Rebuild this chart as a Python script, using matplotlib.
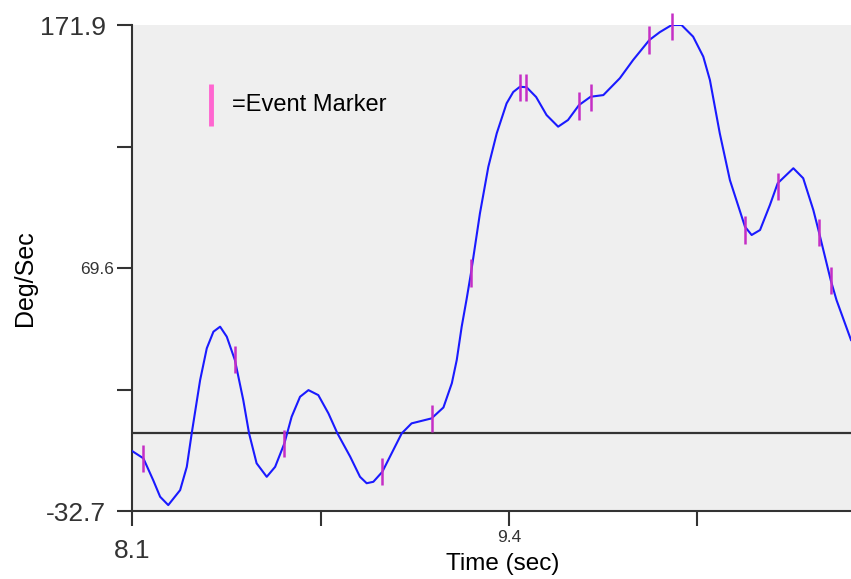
import numpy as np
import matplotlib.pyplot as plt

# angular velocity trace (sec, deg/sec)
time = [8.100, 8.138, 8.172, 8.196, 8.224, 8.265, 8.288, 8.305, 8.334, 8.357,
        8.380, 8.403, 8.426, 8.454, 8.483, 8.503, 8.529, 8.564, 8.593, 8.625,
        8.650, 8.679, 8.708, 8.742, 8.777, 8.808, 8.852, 8.886, 8.909, 8.932,
        8.963, 9.001, 9.030, 9.064, 9.133, 9.174, 9.203, 9.220, 9.237, 9.254,
        9.269, 9.300, 9.329, 9.358, 9.392, 9.415, 9.438, 9.461, 9.494, 9.530,
        9.570, 9.604, 9.642, 9.682, 9.726, 9.783, 9.829, 9.885, 9.921, 9.962,
        9.996, 10.036, 10.071, 10.094, 10.128, 10.163, 10.215, 10.238, 10.267, 10.301,
        10.328, 10.382, 10.416, 10.451, 10.470, 10.511, 10.531, 10.581]
velocity = [-7.5, -10.5, -19.7, -26.7, -30.2, -23.9, -14.1, 0.0, 22.4, 35.8,
            42.8, 44.9, 40.7, 30.9, 14.0, 0.0, -12.6, -18.3, -14.1, -4.2,
            7.0, 15.4, 18.2, 16.1, 8.4, 0.0, -9.8, -18.3, -21.0, -20.4,
            -16.2, -7.0, 0.0, 4.2, 6.3, 10.9, 21.1, 30.9, 44.9, 56.5,
            67.4, 92.6, 112.2, 126.3, 138.9, 143.7, 145.9, 145.7, 141.6, 134.0,
            129.1, 131.9, 138.2, 141.7, 142.4, 149.5, 157.2, 165.6, 168.9, 171.9,
            171.9, 167.0, 158.6, 148.7, 126.3, 106.6, 87.0, 83.5, 85.6, 96.1,
            105.3, 111.6, 107.4, 94.0, 84.9, 64.5, 56.1, 39.3]

# event markers
event_t = [8.138, 8.454, 8.625, 8.963, 9.133, 9.269, 9.439, 9.459, 9.642, 9.685,
           9.885, 9.962, 10.215, 10.330, 10.470, 10.512]
event_v = [-10.5, 30.9, -4.2, -16.2, 6.3, 67.5, 145.6, 145.6, 137.8, 141.2,
           165.6, 171.2, 85.6, 104.1, 84.5, 64.5]

x_ticks = [8.1, 8.75, 9.4, 10.05]
x_labels = ["8.1", "", "9.4", ""]
y_ticks = [-32.7, 18.45, 69.6, 120.75, 171.9]
y_labels = ["-32.7", "", "69.6", "", "171.9"]

plt.rcParams['font.family'] = ['Liberation Sans', 'DejaVu Sans']

fig = plt.figure(figsize=(8.51, 5.79), dpi=100)
ax = fig.add_axes([0.1555, 0.1174, 0.8445, 0.8394])
ax.set_facecolor('#efefef')

ax.axhline(0, color='#333333', lw=1.6, zorder=2)
ax.plot(time, velocity, color='#1a1aff', lw=1.5, zorder=3)
half = 5.7
ax.vlines(event_t, np.array(event_v) - half, np.array(event_v) + half,
          color='#c52fc5', lw=1.8, zorder=4, clip_on=False)

ax.set_xlim(8.1, 10.581)
ax.set_ylim(-32.7, 171.9)

ax.spines['top'].set_visible(False)
ax.spines['right'].set_visible(False)
for s in ['left', 'bottom']:
    ax.spines[s].set_color('#333333')
    ax.spines[s].set_linewidth(1.5)

ax.set_xticks(x_ticks, x_labels)
ax.set_yticks(y_ticks, y_labels)
ax.tick_params(axis='both', direction='out', length=11, width=1.5,
               color='#333333', labelcolor='#333333')

for tick, lab in zip(ax.yaxis.get_major_ticks(), y_labels):
    if lab == "69.6":
        tick.label1.set_fontsize(12.5)
        tick.set_pad(2)
    else:
        tick.label1.set_fontsize(19)
        tick.set_pad(8)
for tick, lab in zip(ax.xaxis.get_major_ticks(), x_labels):
    if lab == "9.4":
        tick.label1.set_fontsize(12.5)
        tick.set_pad(3)
    else:
        tick.label1.set_fontsize(19)
        tick.set_pad(9)

ax.set_xlabel("Time (sec)", fontsize=17.5, color='black')
ax.set_ylabel("Deg/Sec", fontsize=18, color='black')
ax.xaxis.set_label_coords(0.515, -0.086)
ax.yaxis.set_label_coords(-0.133, 0.48)

# legend glyph for events
ax.plot([0.1095, 0.1095], [0.792, 0.879], transform=ax.transAxes,
        color='#ff66d0', lw=3.5, solid_capstyle='butt')
ax.text(0.138, 0.835, "=Event Marker", transform=ax.transAxes,
        fontsize=17, va='center', ha='left', color='black')

fig.savefig("out.png", dpi=100)
